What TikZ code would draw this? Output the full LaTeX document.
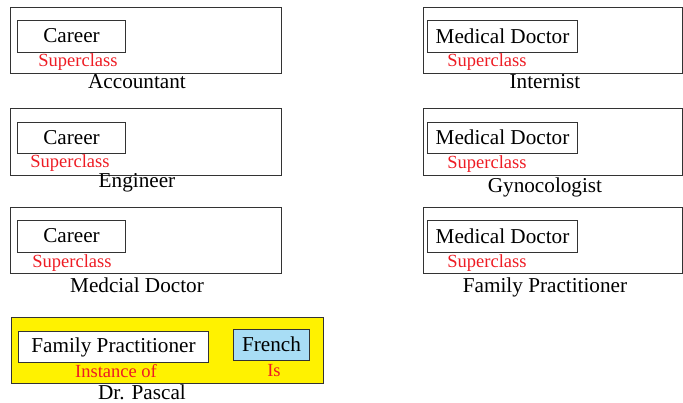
\documentclass[tikz,border=0pt]{standalone}
\usepackage{fontspec}
\setmainfont{Liberation Serif}
\definecolor{lblred}{HTML}{EE1C24}
\definecolor{frame}{HTML}{333333}
\definecolor{ylw}{HTML}{FFF200}
\definecolor{lblue}{HTML}{A8DDF5}
\newcommand{\upbit}[1]{\raisebox{1.5pt}{#1}}
\begin{document}
\begin{tikzpicture}[x=1pt,y=-1pt,
  outerbox/.style={draw=frame,line width=1pt,anchor=north west,inner sep=0pt},
  innerbox/.style={draw=frame,line width=1pt,anchor=north west,inner sep=0pt,font=\fontsize{21.2}{23}\selectfont\rmfamily},
  redlbl/.style={text=lblred,inner sep=0pt,font=\fontsize{18.5}{20}\selectfont\rmfamily},
  namelbl/.style={inner sep=0pt,font=\fontsize{21.2}{23}\selectfont\rmfamily}]
\useasboundingbox (0,0) rectangle (683,403);
% left column
\node[outerbox,minimum width=271pt,minimum height=66pt] (acc) at (10,7) {};
\node[innerbox,minimum width=108pt,minimum height=32pt] (acccar) at (17,20) {\upbit{Career}};
\node[redlbl] (accsup) at (78,62) {Superclass};
\node[namelbl] (accname) at (137,82) {Accountant};

\node[outerbox,minimum width=271pt,minimum height=67pt] (eng) at (10,108) {};
\node[innerbox,minimum width=108pt,minimum height=31pt] (engcar) at (17,122) {\upbit{Career}};
\node[redlbl] (engsup) at (70,163) {Superclass};
\node[namelbl] (engname) at (137,183) {Engineer};

\node[outerbox,minimum width=271pt,minimum height=66pt] (med) at (10,207) {};
\node[innerbox,minimum width=108pt,minimum height=32pt] (medcar) at (17,220) {\upbit{Career}};
\node[redlbl] (medsup) at (72,263) {Superclass};
\node[namelbl] (medname) at (137,285) {Medcial Doctor};

% right column
\node[outerbox,minimum width=259pt,minimum height=66pt] (int) at (423,7) {};
\node[innerbox,minimum width=150pt,minimum height=32pt] (intmd) at (427,20) {\upbit{Medical Doctor}};
\node[redlbl] (intsup) at (487,62) {Superclass};
\node[namelbl] (intname) at (545,82) {Internist};

\node[outerbox,minimum width=259pt,minimum height=67pt] (gyn) at (423,108) {};
\node[innerbox,minimum width=150pt,minimum height=31pt] (gynmd) at (427,122) {\upbit{Medical Doctor}};
\node[redlbl] (gynsup) at (487,164) {Superclass};
\node[namelbl] (gynname) at (545,187) {Gynocologist};

\node[outerbox,minimum width=259pt,minimum height=66pt] (fam) at (423,207) {};
\node[innerbox,minimum width=150pt,minimum height=32pt] (fammd) at (427,220) {\upbit{Medical Doctor}};
\node[redlbl] (famsup) at (487,263) {Superclass};
\node[namelbl] (famname) at (545,287) {Family Practitioner};

% bottom instance
\node[outerbox,fill=ylw,minimum width=312pt,minimum height=66pt] (pas) at (11,317) {};
\node[innerbox,fill=white,minimum width=190pt,minimum height=31pt] (pasfp) at (18,331) {\upbit{Family Practitioner}};
\node[innerbox,fill=lblue,minimum width=76pt,minimum height=31pt] (pasfr) at (233,329) {\upbit{French}};
\node[redlbl] (pasinst) at (116,371) {Instance of};
\node[redlbl] (pasis) at (274,371) {Is};
\node[namelbl] (pasname) at (142,392) {Dr. Pascal};
\end{tikzpicture}
\end{document}
